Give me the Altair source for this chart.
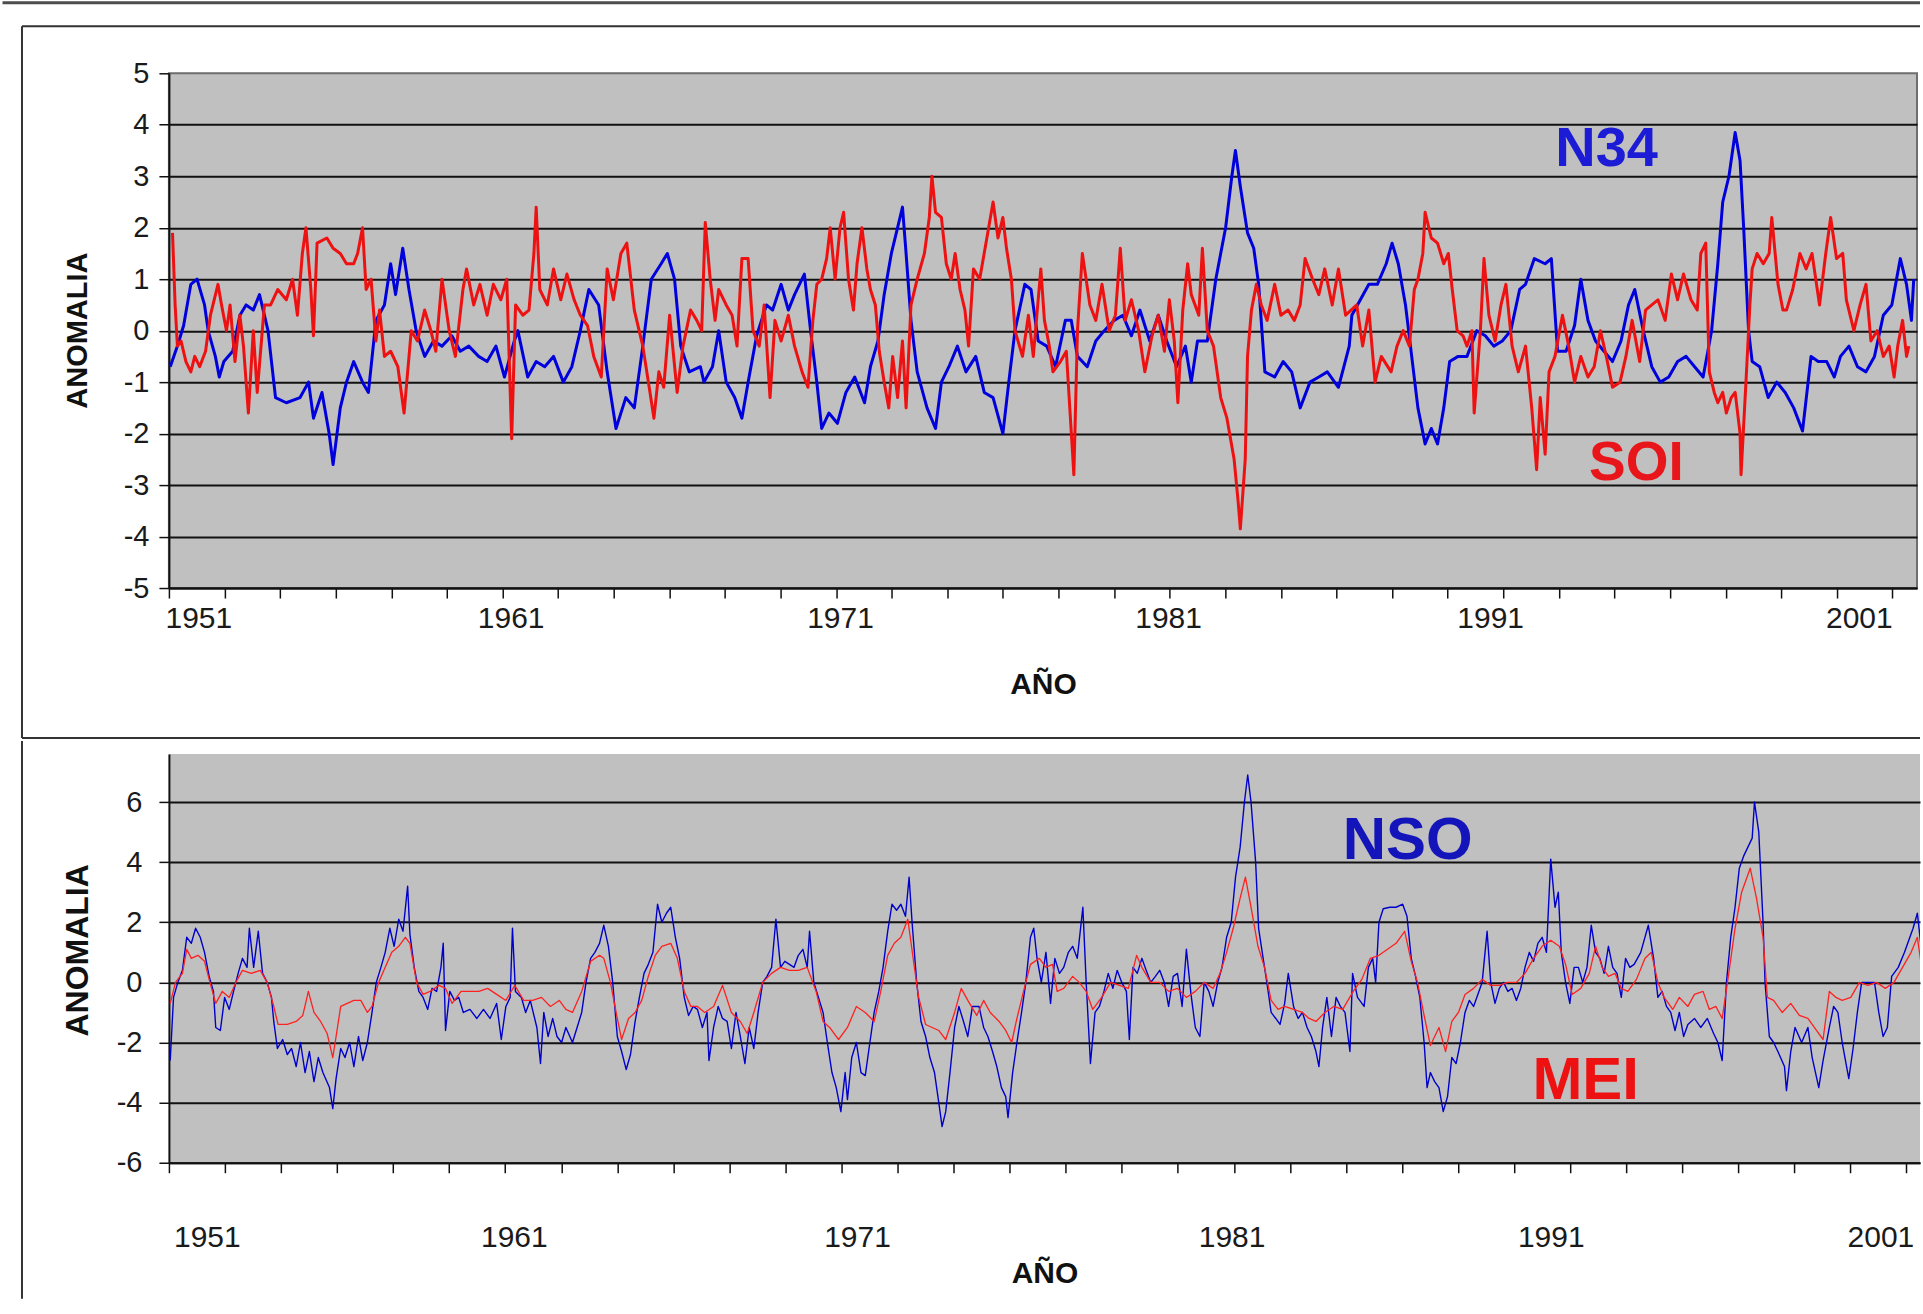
import altair as alt
import pandas as pd

FONT = "Liberation Sans"

# ---------------- top panel: N34 (blue) and SOI (red), (decimal year, anomaly) ----------------
n34 = [(1950.04,-0.7),(1950.26,-0.3),(1950.45,0.1),(1950.67,0.9),(1950.86,1.0),(1951.09,0.5),(1951.20,0.0),
(1951.42,-0.5),(1951.54,-0.9),(1951.68,-0.6),(1951.95,-0.4),(1952.17,0.3),(1952.36,0.5),(1952.58,0.4),(1952.77,0.7),
(1953.03,0.0),(1953.26,-1.3),(1953.59,-1.4),(1954.01,-1.3),(1954.27,-1.0),(1954.42,-1.7),(1954.68,-1.2),(1954.90,-2.0),
(1955.02,-2.6),(1955.24,-1.5),(1955.43,-1.0),(1955.65,-0.6),(1955.92,-1.0),(1956.10,-1.2),(1956.33,0.2),(1956.59,0.5),
(1956.78,1.3),(1956.93,0.7),(1957.15,1.6),(1957.34,0.8),(1957.56,0.0),(1957.82,-0.5),(1958.09,-0.2),(1958.35,-0.3),
(1958.65,-0.1),(1958.91,-0.4),(1959.17,-0.3),(1959.47,-0.5),(1959.73,-0.6),(1960.00,-0.3),(1960.26,-0.9),(1960.56,-0.2),
(1960.67,0.0),(1960.97,-0.9),(1961.23,-0.6),(1961.49,-0.7),(1961.76,-0.5),(1962.06,-1.0),(1962.32,-0.7),(1962.58,0.0),
(1962.84,0.8),(1963.14,0.5),(1963.40,-0.8),(1963.67,-1.9),(1963.97,-1.3),(1964.23,-1.5),(1964.49,-0.3),(1964.75,1.0),
(1965.05,1.3),(1965.24,1.5),(1965.46,1.0),(1965.65,-0.3),(1965.91,-0.8),(1966.25,-0.7),(1966.36,-1.0),(1966.62,-0.7),
(1966.81,0.0),(1967.04,-1.0),(1967.30,-1.3),(1967.52,-1.7),(1967.71,-1.0),(1967.97,-0.1),(1968.27,0.5),(1968.46,0.4),
(1968.72,0.9),(1968.94,0.4),(1969.13,0.7),(1969.43,1.1),(1969.62,0.0),(1969.81,-1.0),(1969.96,-1.9),(1970.18,-1.6),
(1970.44,-1.8),(1970.70,-1.2),(1970.97,-0.9),(1971.27,-1.4),(1971.45,-0.7),(1971.68,-0.2),(1971.87,0.7),(1972.09,1.5),
(1972.28,2.0),(1972.43,2.4),(1972.54,1.5),(1972.69,0.2),(1972.88,-0.8),(1973.18,-1.5),(1973.44,-1.9),(1973.62,-1.0),
(1973.85,-0.7),(1974.11,-0.3),(1974.37,-0.8),(1974.67,-0.5),(1974.93,-1.2),(1975.20,-1.3),(1975.50,-2.0),(1975.68,-1.0),
(1975.87,0.0),(1976.17,0.9),(1976.36,0.8),(1976.58,-0.2),(1976.84,-0.3),(1977.11,-0.7),(1977.41,0.2),(1977.59,0.2),
(1977.78,-0.5),(1978.08,-0.7),(1978.34,-0.2),(1978.60,0.0),(1978.90,0.2),(1979.17,0.3),(1979.43,-0.1),(1979.69,0.4),
(1979.99,-0.2),(1980.25,0.3),(1980.51,-0.2),(1980.81,-0.7),(1981.08,-0.3),(1981.26,-1.0),(1981.45,-0.2),(1981.75,-0.2),
(1982.01,1.0),(1982.31,2.0),(1982.50,3.0),(1982.61,3.5),(1982.76,2.8),(1982.98,1.9),(1983.17,1.6),(1983.32,0.9),
(1983.51,-0.8),(1983.81,-0.9),(1984.07,-0.6),(1984.33,-0.8),(1984.59,-1.5),(1984.89,-1.0),(1985.16,-0.9),(1985.42,-0.8),
(1985.76,-1.1),(1986.09,-0.3),(1986.17,0.3),(1986.43,0.6),(1986.69,0.9),(1986.95,0.9),(1987.22,1.3),(1987.40,1.7),
(1987.59,1.3),(1987.81,0.5),(1988.00,-0.5),(1988.19,-1.5),(1988.41,-2.2),(1988.60,-1.9),(1988.79,-2.2),(1988.98,-1.5),
(1989.16,-0.6),(1989.42,-0.5),(1989.69,-0.5),(1989.99,0.0),(1990.25,-0.1),(1990.51,-0.3),(1990.77,-0.2),(1991.03,0.0),
(1991.30,0.8),(1991.48,0.9),(1991.75,1.4),(1992.08,1.3),(1992.27,1.4),(1992.46,-0.4),(1992.72,-0.4),(1992.98,0.1),
(1993.17,1.0),(1993.39,0.2),(1993.62,-0.2),(1993.88,-0.4),(1994.14,-0.6),(1994.40,-0.2),(1994.63,0.5),(1994.82,0.8),
(1995.08,0.0),(1995.34,-0.7),(1995.60,-1.0),(1995.86,-0.9),(1996.13,-0.6),(1996.39,-0.5),(1996.65,-0.7),(1996.91,-0.9),
(1997.17,0.0),(1997.36,1.3),(1997.51,2.5),(1997.70,3.0),(1997.89,3.85),(1998.04,3.3),(1998.15,2.0),(1998.30,0.0),
(1998.41,-0.6),(1998.64,-0.7),(1998.90,-1.3),(1999.16,-1.0),(1999.42,-1.2),(1999.68,-1.5),(1999.95,-1.95),(2000.21,-0.5),
(2000.43,-0.6),(2000.69,-0.6),(2000.92,-0.9),(2001.11,-0.5),(2001.37,-0.3),(2001.63,-0.7),(2001.89,-0.8),(2002.15,-0.5),
(2002.42,0.3),(2002.68,0.5),(2002.94,1.4),(2003.13,0.9),(2003.28,0.2),(2003.35,1.0)]

soi = [(1950.11,1.9),(1950.19,0.5),(1950.26,-0.3),(1950.37,-0.2),(1950.52,-0.6),(1950.67,-0.8),(1950.79,-0.5),
(1950.94,-0.7),(1951.12,-0.4),(1951.27,0.3),(1951.50,0.9),(1951.61,0.5),(1951.76,0.0),(1951.87,0.5),(1952.02,-0.6),
(1952.17,0.3),(1952.28,-0.3),(1952.43,-1.6),(1952.58,0.0),(1952.70,-1.2),(1952.92,0.5),(1953.11,0.5),(1953.33,0.8),
(1953.59,0.6),(1953.78,1.0),(1953.93,0.3),(1954.08,1.5),(1954.19,2.0),(1954.34,0.8),(1954.42,-0.1),(1954.53,1.7),
(1954.83,1.8),(1955.02,1.6),(1955.24,1.5),(1955.43,1.3),(1955.65,1.3),(1955.77,1.5),(1955.92,2.0),(1956.03,0.8),
(1956.18,1.0),(1956.33,-0.2),(1956.44,0.4),(1956.59,-0.5),(1956.78,-0.4),(1957.00,-0.7),(1957.19,-1.6),(1957.41,0.0),
(1957.60,-0.2),(1957.82,0.4),(1958.01,0.0),(1958.16,-0.4),(1958.35,1.0),(1958.57,0.0),(1958.76,-0.5),(1958.99,0.8),
(1959.10,1.2),(1959.32,0.5),(1959.51,0.9),(1959.73,0.3),(1959.92,0.9),(1960.15,0.6),(1960.33,1.0),(1960.48,-2.1),
(1960.60,0.5),(1960.82,0.3),(1961.01,0.4),(1961.16,1.5),(1961.23,2.4),(1961.34,0.8),(1961.57,0.5),(1961.76,1.2),
(1961.98,0.6),(1962.17,1.1),(1962.39,0.6),(1962.58,0.3),(1962.80,0.1),(1962.99,-0.5),(1963.22,-0.9),(1963.40,1.2),
(1963.59,0.6),(1963.82,1.5),(1964.00,1.7),(1964.23,0.4),(1964.49,-0.3),(1964.71,-1.2),(1964.83,-1.7),(1964.98,-0.8),
(1965.13,-1.1),(1965.31,0.3),(1965.54,-1.2),(1965.72,-0.3),(1965.95,0.4),(1966.14,0.2),(1966.29,0.0),(1966.40,2.1),
(1966.55,1.0),(1966.70,0.2),(1966.81,0.8),(1967.04,0.5),(1967.22,0.3),(1967.37,-0.3),(1967.52,1.4),(1967.71,1.4),
(1967.86,0.0),(1968.05,-0.3),(1968.20,0.5),(1968.38,-1.3),(1968.53,0.2),(1968.72,-0.2),(1968.94,0.3),(1969.13,-0.3),
(1969.36,-0.8),(1969.54,-1.1),(1969.69,0.2),(1969.81,0.9),(1969.96,1.0),(1970.11,1.4),(1970.22,2.0),(1970.37,1.0),
(1970.52,2.0),(1970.63,2.3),(1970.78,1.0),(1970.93,0.4),(1971.04,1.3),(1971.19,2.0),(1971.34,1.2),(1971.45,0.8),
(1971.60,0.5),(1971.72,-0.4),(1971.87,-1.0),(1972.01,-1.5),(1972.13,-0.5),(1972.28,-1.3),(1972.43,-0.2),(1972.54,-1.5),
(1972.69,0.5),(1972.88,1.0),(1973.10,1.5),(1973.25,2.2),(1973.33,3.0),(1973.44,2.3),(1973.62,2.2),(1973.77,1.3),
(1973.92,1.0),(1974.04,1.5),(1974.19,0.8),(1974.34,0.4),(1974.45,-0.3),(1974.60,1.2),(1974.79,1.0),(1975.01,1.8),
(1975.20,2.5),(1975.35,1.8),(1975.50,2.2),(1975.61,1.6),(1975.76,1.0),(1975.87,0.0),(1976.10,-0.5),(1976.28,0.3),
(1976.43,-0.5),(1976.66,1.2),(1976.77,0.2),(1976.92,-0.3),(1977.03,-0.8),(1977.26,-0.6),(1977.44,-0.4),(1977.67,-2.8),
(1977.78,0.0),(1977.93,1.5),(1978.16,0.5),(1978.34,0.2),(1978.53,0.9),(1978.75,0.0),(1978.94,0.3),(1979.09,1.6),
(1979.24,0.2),(1979.43,0.6),(1979.65,0.0),(1979.84,-0.8),(1980.06,-0.1),(1980.25,0.3),(1980.44,-0.4),(1980.59,0.6),
(1980.74,-0.2),(1980.85,-1.4),(1981.00,0.4),(1981.15,1.3),(1981.26,0.7),(1981.49,0.3),(1981.60,1.6),(1981.75,0.0),
(1981.94,-0.3),(1982.16,-1.3),(1982.35,-1.7),(1982.57,-2.5),(1982.69,-3.3),(1982.76,-3.85),(1982.91,-2.5),(1982.98,-0.5),
(1983.10,0.4),(1983.25,0.9),(1983.40,0.5),(1983.58,0.2),(1983.81,0.9),(1984.00,0.3),(1984.22,0.4),(1984.41,0.2),
(1984.59,0.5),(1984.74,1.4),(1984.97,1.0),(1985.16,0.7),(1985.34,1.2),(1985.57,0.5),(1985.76,1.2),(1985.98,0.3),
(1986.32,0.5),(1986.50,-0.3),(1986.69,0.4),(1986.88,-1.0),(1987.07,-0.5),(1987.37,-0.8),(1987.55,-0.3),(1987.74,0.0),
(1987.93,-0.3),(1988.08,0.8),(1988.19,1.0),(1988.34,1.5),(1988.41,2.3),(1988.60,1.8),(1988.79,1.7),(1988.98,1.3),
(1989.12,1.5),(1989.24,0.8),(1989.39,0.0),(1989.57,-0.1),(1989.69,-0.3),(1989.84,0.0),(1989.91,-1.6),(1990.10,0.0),
(1990.21,1.4),(1990.36,0.3),(1990.55,-0.2),(1990.73,0.5),(1990.88,0.9),(1991.07,-0.3),(1991.26,-0.8),(1991.48,-0.3),
(1991.67,-1.5),(1991.82,-2.7),(1991.93,-1.3),(1992.08,-2.4),(1992.20,-0.8),(1992.38,-0.5),(1992.61,0.3),(1992.80,-0.3),
(1992.98,-1.0),(1993.17,-0.5),(1993.39,-0.9),(1993.58,-0.7),(1993.77,0.0),(1993.95,-0.5),(1994.14,-1.1),(1994.37,-1.0),
(1994.55,-0.5),(1994.74,0.2),(1994.97,-0.6),(1995.15,0.4),(1995.34,0.5),(1995.53,0.6),(1995.75,0.2),(1995.94,1.1),
(1996.13,0.6),(1996.31,1.1),(1996.54,0.6),(1996.73,0.4),(1996.84,1.5),(1996.99,1.7),(1997.10,-0.8),(1997.25,-1.2),
(1997.36,-1.4),(1997.51,-1.2),(1997.62,-1.6),(1997.77,-1.3),(1997.89,-1.2),(1998.04,-2.0),(1998.07,-2.8),(1998.22,-1.0),
(1998.34,0.5),(1998.41,1.2),(1998.56,1.5),(1998.75,1.3),(1998.93,1.5),(1999.01,2.2),(1999.20,0.9),(1999.35,0.4),
(1999.46,0.4),(1999.65,0.8),(1999.87,1.5),(2000.06,1.2),(2000.24,1.5),(2000.47,0.5),(2000.66,1.5),(2000.81,2.2),
(2000.99,1.4),(2001.18,1.5),(2001.29,0.6),(2001.52,0.0),(2001.71,0.5),(2001.89,0.9),(2002.04,-0.2),(2002.23,0.0),
(2002.42,-0.5),(2002.60,-0.3),(2002.75,-0.9),(2002.86,-0.3),(2003.01,0.2),(2003.13,-0.5),(2003.20,-0.3)]

# ---------------- bottom panel: NSO (blue) and MEI (red) ----------------
nso = [(1950.04,-2.6),(1950.14,-0.5),(1950.27,0.0),(1950.41,0.4),(1950.54,1.5),(1950.68,1.3),(1950.81,1.8),
(1950.95,1.5),(1951.08,1.0),(1951.22,0.2),(1951.35,-0.3),(1951.42,-1.5),(1951.56,-1.6),(1951.69,-0.5),(1951.83,-0.9),
(1951.96,-0.3),(1952.10,0.3),(1952.23,0.8),(1952.37,0.5),(1952.44,1.8),(1952.57,0.5),(1952.71,1.7),(1952.84,0.3),
(1952.98,0.0),(1953.11,-0.5),(1953.18,-1.3),(1953.29,-2.2),(1953.45,-1.9),(1953.59,-2.4),(1953.72,-2.2),(1953.86,-2.8),
(1953.99,-2.0),(1954.13,-3.0),(1954.26,-2.3),(1954.40,-3.3),(1954.53,-2.5),(1954.67,-3.0),(1954.87,-3.5),(1954.97,-4.2),
(1955.07,-3.2),(1955.21,-2.2),(1955.34,-2.5),(1955.48,-2.0),(1955.61,-2.8),(1955.75,-1.8),(1955.88,-2.6),(1956.02,-2.0),
(1956.16,-1.0),(1956.29,0.0),(1956.43,0.5),(1956.56,1.0),(1956.70,1.8),(1956.83,1.2),(1956.97,2.1),(1957.10,1.7),
(1957.24,3.2),(1957.31,1.6),(1957.44,0.5),(1957.58,-0.3),(1957.71,-0.5),(1957.85,-0.9),(1957.98,-0.2),(1958.12,-0.3),
(1958.25,0.5),(1958.32,1.3),(1958.39,-1.6),(1958.52,-0.3),(1958.66,-0.6),(1958.79,-0.5),(1958.93,-1.0),(1959.13,-0.9),
(1959.34,-1.2),(1959.54,-0.9),(1959.74,-1.2),(1959.94,-0.7),(1960.08,-1.9),(1960.22,-0.8),(1960.35,-0.5),(1960.42,1.8),
(1960.51,-0.3),(1960.69,-0.5),(1960.82,-1.0),(1960.96,-0.6),(1961.16,-1.5),(1961.27,-2.7),(1961.37,-1.0),(1961.50,-1.8),
(1961.64,-1.2),(1961.77,-1.8),(1961.91,-2.0),(1962.04,-1.5),(1962.24,-2.0),(1962.38,-1.5),(1962.52,-1.0),(1962.65,0.0),
(1962.79,0.8),(1962.92,1.0),(1963.06,1.3),(1963.19,1.9),(1963.33,1.2),(1963.46,0.0),(1963.60,-1.8),(1963.73,-2.3),
(1963.87,-2.9),(1964.00,-2.4),(1964.14,-1.3),(1964.27,-0.5),(1964.41,0.3),(1964.54,0.6),(1964.68,1.0),(1964.82,2.6),
(1964.95,2.0),(1965.09,2.3),(1965.22,2.5),(1965.36,1.5),(1965.49,0.8),(1965.63,-0.5),(1965.76,-1.1),(1965.90,-0.8),
(1966.03,-0.9),(1966.18,-1.5),(1966.32,-1.0),(1966.38,-2.6),(1966.52,-1.5),(1966.66,-0.8),(1966.79,-1.2),(1966.93,-1.3),
(1967.06,-2.2),(1967.20,-1.0),(1967.33,-1.8),(1967.47,-2.7),(1967.60,-1.5),(1967.74,-2.2),(1967.87,-1.0),(1968.01,0.0),
(1968.14,0.2),(1968.28,0.5),(1968.41,2.1),(1968.55,0.5),(1968.68,0.7),(1968.82,0.6),(1968.96,0.5),(1969.09,0.9),
(1969.23,1.1),(1969.36,0.5),(1969.43,1.7),(1969.56,0.0),(1969.70,-0.5),(1969.84,-1.0),(1969.97,-2.0),(1970.11,-3.0),
(1970.24,-3.5),(1970.38,-4.3),(1970.51,-3.0),(1970.58,-3.9),(1970.71,-2.5),(1970.85,-2.0),(1970.99,-3.0),(1971.12,-3.1),
(1971.26,-2.0),(1971.39,-1.0),(1971.53,-0.3),(1971.66,0.5),(1971.80,1.7),(1971.93,2.6),(1972.07,2.4),(1972.20,2.6),
(1972.34,2.2),(1972.45,3.5),(1972.54,2.0),(1972.68,0.0),(1972.81,-1.3),(1972.95,-1.8),(1973.08,-2.5),(1973.22,-3.0),
(1973.35,-4.0),(1973.45,-4.8),(1973.56,-4.3),(1973.69,-3.0),(1973.83,-1.5),(1973.96,-0.8),(1974.10,-1.3),(1974.23,-1.8),
(1974.37,-0.8),(1974.57,-0.8),(1974.71,-1.5),(1974.84,-1.8),(1974.98,-2.3),(1975.11,-2.8),(1975.25,-3.5),(1975.38,-3.8),
(1975.45,-4.5),(1975.59,-3.0),(1975.72,-2.0),(1975.86,-1.0),(1975.99,0.0),(1976.13,1.5),(1976.23,1.8),(1976.33,0.8),
(1976.46,0.0),(1976.60,1.0),(1976.74,-0.7),(1976.87,0.8),(1977.01,0.3),(1977.14,0.5),(1977.28,1.0),(1977.41,1.2),
(1977.55,0.8),(1977.72,2.5),(1977.82,0.0),(1977.95,-2.7),(1978.09,-1.0),(1978.22,-0.8),(1978.36,-0.3),(1978.49,0.3),
(1978.63,-0.2),(1978.76,0.4),(1978.90,0.0),(1979.04,-0.3),(1979.13,-1.9),(1979.24,0.5),(1979.37,0.3),(1979.51,0.8),
(1979.64,0.4),(1979.78,0.0),(1979.92,0.2),(1980.05,0.4),(1980.19,0.0),(1980.32,-0.8),(1980.46,0.2),(1980.59,0.3),
(1980.73,-0.8),(1980.86,1.1),(1981.00,-0.4),(1981.13,-1.5),(1981.27,-1.8),(1981.40,0.0),(1981.54,-0.3),(1981.67,-0.8),
(1981.81,0.0),(1981.94,0.5),(1982.08,1.5),(1982.22,2.0),(1982.35,3.5),(1982.49,4.5),(1982.62,6.0),(1982.72,6.9),
(1982.82,6.0),(1982.96,4.0),(1983.05,1.8),(1983.16,1.0),(1983.30,0.0),(1983.43,-1.0),(1983.57,-1.2),(1983.70,-1.4),
(1983.84,-0.7),(1983.95,0.3),(1984.11,-0.8),(1984.25,-1.2),(1984.38,-1.0),(1984.52,-1.5),(1984.65,-1.8),(1984.79,-2.3),
(1984.88,-2.8),(1984.99,-1.5),(1985.12,-0.5),(1985.26,-1.8),(1985.40,-0.5),(1985.53,-0.8),(1985.67,-1.0),(1985.82,-2.3),
(1985.90,0.3),(1986.05,-0.5),(1986.25,-0.8),(1986.38,0.5),(1986.51,0.8),(1986.60,0.0),(1986.70,2.0),(1986.83,2.45),
(1987.03,2.5),(1987.22,2.5),(1987.42,2.6),(1987.55,2.2),(1987.68,0.8),(1987.81,0.2),(1987.94,-0.5),(1988.07,-2.0),
(1988.16,-3.5),(1988.26,-3.0),(1988.39,-3.3),(1988.52,-3.5),(1988.65,-4.3),(1988.78,-3.8),(1988.91,-2.5),(1989.04,-2.7),
(1989.17,-2.0),(1989.31,-1.0),(1989.44,-0.6),(1989.57,-0.8),(1989.70,-0.4),(1989.83,0.0),(1989.98,1.7),(1990.09,0.0),
(1990.22,-0.7),(1990.35,-0.2),(1990.48,0.0),(1990.61,-0.3),(1990.74,-0.2),(1990.87,-0.6),(1991.00,-0.2),(1991.13,0.5),
(1991.26,1.0),(1991.39,0.7),(1991.52,1.3),(1991.65,1.5),(1991.78,1.0),(1991.91,4.1),(1992.04,2.5),(1992.14,3.0),
(1992.23,1.0),(1992.36,0.0),(1992.49,-0.7),(1992.62,0.5),(1992.75,0.5),(1992.88,0.0),(1993.01,0.5),(1993.14,1.9),
(1993.27,1.0),(1993.40,0.8),(1993.53,0.3),(1993.66,1.2),(1993.79,0.5),(1993.92,0.3),(1994.05,-0.5),(1994.18,0.8),
(1994.31,0.5),(1994.44,0.6),(1994.64,1.0),(1994.87,1.9),(1995.03,0.8),(1995.16,-0.5),(1995.29,-0.3),(1995.42,-0.8),
(1995.55,-1.0),(1995.68,-1.6),(1995.81,-1.0),(1995.94,-1.8),(1996.07,-1.4),(1996.27,-1.2),(1996.46,-1.5),(1996.66,-1.2),
(1996.85,-1.7),(1996.98,-2.0),(1997.11,-2.6),(1997.24,0.0),(1997.37,1.5),(1997.50,2.5),(1997.63,3.8),(1997.76,4.2),
(1997.89,4.5),(1998.02,4.8),(1998.09,6.0),(1998.22,5.0),(1998.35,2.0),(1998.41,0.0),(1998.54,-1.8),(1998.67,-2.0),
(1998.80,-2.3),(1999.00,-2.8),(1999.06,-3.6),(1999.19,-2.3),(1999.32,-1.5),(1999.52,-2.0),(1999.71,-1.5),(1999.84,-2.5),
(2000.04,-3.5),(2000.17,-2.6),(2000.36,-1.5),(2000.49,-0.8),(2000.62,-1.0),(2000.75,-2.0),(2000.95,-3.2),(2001.08,-2.2),
(2001.21,-1.0),(2001.34,0.0),(2001.53,0.0),(2001.73,0.0),(2001.86,-1.0),(2001.99,-1.8),(2002.12,-1.5),(2002.25,0.2),
(2002.45,0.5),(2002.64,1.0),(2002.77,1.4),(2002.90,1.8),(2003.03,2.3),(2003.16,1.0)]

mei = [(1950.04,-0.7),(1950.20,0.0),(1950.41,0.3),(1950.54,1.1),(1950.68,0.8),(1950.88,0.9),(1951.08,0.7),
(1951.22,0.1),(1951.42,-0.7),(1951.62,-0.3),(1951.83,-0.5),(1952.03,0.0),(1952.23,0.4),(1952.50,0.3),(1952.77,0.4),
(1952.98,0.0),(1953.18,-0.8),(1953.31,-1.4),(1953.59,-1.4),(1953.86,-1.3),(1954.06,-1.1),(1954.23,-0.3),(1954.40,-1.0),
(1954.60,-1.3),(1954.80,-1.7),(1954.97,-2.5),(1955.07,-1.8),(1955.21,-0.8),(1955.41,-0.7),(1955.61,-0.6),(1955.82,-0.6),
(1956.02,-1.0),(1956.16,-0.8),(1956.36,0.0),(1956.56,0.5),(1956.76,1.0),(1956.97,1.2),(1957.17,1.5),(1957.31,1.3),
(1957.51,0.0),(1957.71,-0.4),(1957.92,-0.3),(1958.19,-0.1),(1958.39,-0.2),(1958.59,-0.7),(1958.86,-0.3),(1959.13,-0.3),
(1959.40,-0.3),(1959.67,-0.2),(1959.94,-0.4),(1960.22,-0.6),(1960.49,-0.1),(1960.76,-0.6),(1961.03,-0.6),(1961.30,-0.5),
(1961.57,-0.8),(1961.84,-0.6),(1962.04,-0.9),(1962.24,-1.0),(1962.52,-0.3),(1962.79,0.7),(1963.06,0.9),(1963.19,0.8),
(1963.39,0.0),(1963.60,-1.2),(1963.73,-1.9),(1963.94,-1.2),(1964.14,-1.0),(1964.34,-0.6),(1964.54,0.2),(1964.75,0.9),
(1964.95,1.2),(1965.22,1.3),(1965.42,0.8),(1965.63,-0.3),(1965.83,-0.8),(1966.03,-0.8),(1966.25,-1.0),(1966.52,-0.8),
(1966.79,-0.1),(1967.06,-1.0),(1967.33,-1.3),(1967.54,-1.7),(1967.74,-1.0),(1968.01,0.0),(1968.28,0.3),(1968.55,0.5),
(1968.82,0.4),(1969.09,0.4),(1969.36,0.5),(1969.63,-0.3),(1969.84,-1.3),(1970.04,-1.5),(1970.31,-1.9),(1970.58,-1.5),
(1970.85,-0.8),(1971.12,-1.0),(1971.39,-1.3),(1971.59,-0.3),(1971.80,0.9),(1972.00,1.3),(1972.20,1.5),(1972.41,2.1),
(1972.61,0.5),(1972.74,-0.5),(1972.95,-1.4),(1973.15,-1.5),(1973.35,-1.6),(1973.56,-1.9),(1973.83,-1.0),(1974.03,-0.2),
(1974.23,-0.6),(1974.50,-1.1),(1974.71,-0.6),(1974.91,-1.0),(1975.18,-1.3),(1975.38,-1.6),(1975.56,-2.0),(1975.72,-1.2),
(1975.92,-0.3),(1976.13,0.6),(1976.40,0.8),(1976.60,0.5),(1976.80,0.6),(1976.94,-0.3),(1977.14,-0.2),(1977.41,0.2),
(1977.61,0.0),(1977.82,-0.3),(1978.02,-0.9),(1978.29,-0.5),(1978.56,0.0),(1978.83,-0.1),(1979.10,-0.2),(1979.35,0.9),
(1979.51,0.5),(1979.78,0.0),(1980.05,0.0),(1980.32,-0.3),(1980.59,-0.2),(1980.86,-0.5),(1981.13,-0.3),(1981.40,0.0),
(1981.67,-0.2),(1981.88,0.3),(1982.08,1.0),(1982.28,1.8),(1982.49,2.8),(1982.65,3.5),(1982.82,2.5),(1983.03,1.2),
(1983.23,0.5),(1983.43,-0.6),(1983.64,-0.9),(1983.84,-0.8),(1984.11,-0.9),(1984.38,-1.0),(1984.58,-1.2),(1984.79,-1.3),
(1985.06,-1.0),(1985.33,-0.8),(1985.60,-0.9),(1985.92,-0.3),(1986.18,0.1),(1986.44,0.8),(1986.70,0.9),(1986.96,1.1),
(1987.22,1.3),(1987.48,1.7),(1987.68,0.7),(1987.87,0.0),(1988.07,-1.1),(1988.26,-2.1),(1988.52,-1.5),(1988.72,-2.3),
(1988.91,-1.3),(1989.11,-1.0),(1989.31,-0.4),(1989.57,-0.2),(1989.83,0.1),(1990.09,-0.1),(1990.35,-0.1),(1990.61,0.0),
(1990.87,0.0),(1991.13,0.3),(1991.39,0.8),(1991.65,1.2),(1991.91,1.4),(1992.17,1.2),(1992.36,0.6),(1992.56,-0.4),
(1992.82,-0.2),(1993.08,0.3),(1993.27,1.2),(1993.47,0.5),(1993.66,0.2),(1993.86,0.3),(1994.05,-0.2),(1994.25,-0.3),
(1994.51,0.1),(1994.77,0.8),(1994.96,1.0),(1995.16,0.0),(1995.35,-0.5),(1995.61,-0.9),(1995.81,-0.5),(1996.07,-0.8),
(1996.27,-0.4),(1996.53,-0.3),(1996.72,-0.9),(1996.92,-0.8),(1997.11,-1.2),(1997.31,0.3),(1997.50,1.8),(1997.70,3.0),
(1997.96,3.8),(1998.15,2.8),(1998.35,1.5),(1998.48,-0.5),(1998.67,-0.6),(1998.93,-1.0),(1999.19,-0.7),(1999.45,-1.1),
(1999.71,-1.2),(1999.97,-1.6),(2000.17,-1.9),(2000.36,-0.3),(2000.56,-0.5),(2000.75,-0.6),(2001.01,-0.5),(2001.27,0.0),
(2001.53,-0.1),(2001.79,0.0),(2002.06,-0.2),(2002.32,0.0),(2002.58,0.5),(2002.84,1.0),(2003.03,1.5),(2003.16,0.5)]

# ---------------- axes ----------------
tick_years = [1950.0, 1951.7, 1953.4, 1955.1, 1956.8, 1958.5, 1960.2, 1961.9, 1963.6, 1965.3, 1967.0,
              1968.7, 1970.4, 1972.1, 1973.8, 1975.5, 1977.2, 1978.9, 1980.6, 1982.3, 1984.0, 1985.7,
              1987.4, 1989.1, 1990.8, 1992.5, 1994.2, 1995.9, 1997.6, 1999.3, 2001.0, 2002.7]
year_labels = ["1951", "1961", "1971", "1981", "1991", "2001"]
top_label_years = [1950.90, 1960.45, 1970.52, 1980.55, 1990.40, 2001.67]
bottom_label_years = [1951.15, 1960.46, 1970.87, 1982.23, 1991.91, 2001.91]
top_y_values = [-5, -4, -3, -2, -1, 0, 1, 2, 3, 4, 5]
bottom_y_values = [-6, -4, -2, 0, 2, 4, 6]

top_notes = [("N34", 1993.96, 3.52, "#1c1cd6", 56), ("SOI", 1994.87, -2.58, "#e8161b", 55)]
bottom_notes = [("NSO", 1987.57, 4.70, "#1414bb", 60), ("MEI", 1992.97, -3.28, "#ee1111", 60)]

INK = "#111111"


def x_axis(label_years, label_padding, title_y):
    expr = "''"
    for yr, txt in reversed(list(zip(label_years, year_labels))):
        expr = "datum.value == %r ? '%s' : %s" % (yr, txt, expr)
    test = "indexof([" + ", ".join(repr(v) for v in label_years) + "], datum.value) >= 0"
    return alt.Axis(
        values=sorted(tick_years + label_years), labelExpr=expr,
        tickOpacity={"condition": {"test": test, "value": 0}, "value": 1},
        grid=False, tickSize=10, tickWidth=1.5, tickColor=INK,
        domainColor=INK, domainWidth=2,
        labelFont=FONT, labelFontSize=30, labelColor="#1a1a1a", labelPadding=label_padding,
        labelOverlap=False, labelFlush=False, labelBound=False,
        title="AÑO", titleFont=FONT, titleFontSize=30, titleFontWeight="bold", titleColor=INK,
        titleY=title_y, titleBaseline="top")


def y_axis(values, title_y, grid_opacity, label_padding, title_size):
    return alt.Axis(
        values=values, labelExpr="'' + datum.value",
        grid=True, gridColor=INK, gridWidth=2, gridOpacity=grid_opacity,
        tickSize=10, tickWidth=1.5, tickColor=INK, domainColor=INK, domainWidth=2,
        labelFont=FONT, labelFontSize=29, labelColor="#1a1a1a", labelPadding=label_padding,
        title="ANOMALIA", titleFont=FONT, titleFontSize=title_size, titleFontWeight="bold", titleColor=INK,
        titleX=-91, titleY=title_y, titleBaseline="middle", titleAlign="center")


one = pd.DataFrame({"k": [0]})


def hline(x1, x2, y, w=2, color="#333333"):
    return alt.Chart(one).mark_rule(color=color, strokeWidth=w).encode(
        x=alt.value(x1), x2=alt.value(x2), y=alt.value(y))


def vline(x, y1, y2, w=2, color="#333333"):
    return alt.Chart(one).mark_rule(color=color, strokeWidth=w).encode(
        x=alt.value(x), y=alt.value(y1), y2=alt.value(y2))


def panel(lines, notes, frame, xdomain, ydomain, xaxis, yaxis, width, height, view):
    xs = alt.Scale(domain=xdomain, nice=False, zero=False)
    ys = alt.Scale(domain=ydomain, nice=False, zero=False)
    layers = list(frame)
    for data, color, sw in lines:
        df = pd.DataFrame(data, columns=["year", "value"])
        layers.append(alt.Chart(df).mark_line(color=color, strokeWidth=sw, clip=True, strokeJoin="round").encode(
            x=alt.X("year:Q", scale=xs, axis=xaxis),
            y=alt.Y("value:Q", scale=ys, axis=yaxis)))
    for name, yr, val, color, size in notes:
        df = pd.DataFrame({"year": [yr], "value": [val], "name": [name]})
        layers.append(alt.Chart(df).mark_text(font=FONT, fontSize=size, fontWeight="bold", color=color,
                                              align="center", baseline="middle").encode(
            x=alt.X("year:Q", scale=xs, axis=xaxis),
            y=alt.Y("value:Q", scale=ys, axis=yaxis),
            text="name:N"))
    return alt.layer(*layers).properties(width=width, height=height, view=view)


TOP_W, TOP_H = 1749, 515
BOT_W, BOT_H = 1752, 409

top_frame = [
    hline(-166.5, 1752, -70.5, 3, "#4d4d4d"),
    hline(-147, 1752, -47),
    vline(-147, -47, 665),
    hline(-147, 1752, 665),
]
bottom_frame = [vline(-147, -13, 545)]

top = panel(
    [(n34, "#0000dd", 3), (soi, "#ee1111", 3)], top_notes, top_frame,
    [1950, 2003.45], [-5, 5],
    x_axis(top_label_years, 5, 82),
    y_axis(top_y_values, 257, {"condition": {"test": "datum.value >= 5", "value": 0}, "value": 1}, 10, 29),
    TOP_W, TOP_H,
    alt.ViewBackground(fill="#c0c0c0", stroke="#6e6e6e", strokeWidth=2))

bottom = panel(
    [(nso, "#0000cc", 1.4), (mei, "#ff2020", 1.3)], bottom_notes, bottom_frame,
    [1950, 2003.11], [-6, 7.6],
    x_axis(bottom_label_years, 50, 96),
    y_axis(bottom_y_values, 196, 1, 17, 32),
    BOT_W, BOT_H,
    alt.ViewBackground(fill="#c0c0c0", strokeWidth=0))

chart = alt.vconcat(top, bottom, spacing=0).properties(padding=0, background="#ffffff")

chart.save("out.html", embed_options={"renderer": "svg", "actions": False})
